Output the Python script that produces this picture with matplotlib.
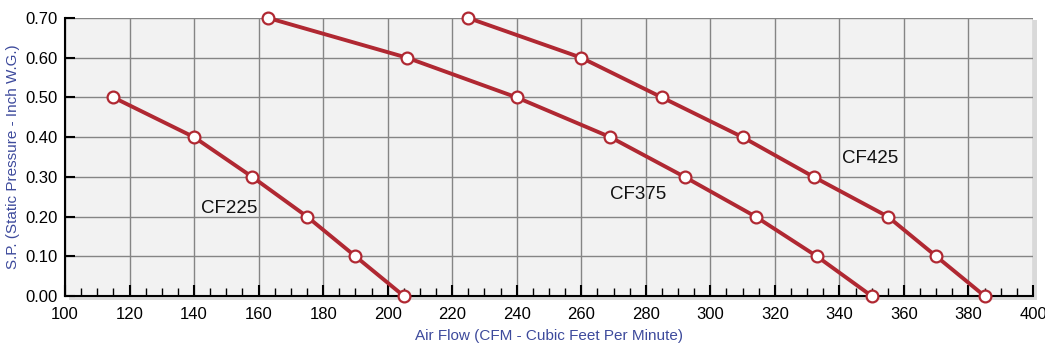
import matplotlib.pyplot as plt
from matplotlib.patches import Rectangle
from matplotlib.ticker import MultipleLocator

plt.rcParams['font.family'] = ['Liberation Sans', 'DejaVu Sans']

# Fan curves: air flow (CFM) vs static pressure (inch W.G.)
cf225_cfm = [115, 140, 158, 175, 190, 205]
cf225_sp = [0.50, 0.40, 0.30, 0.20, 0.10, 0.00]
cf375_cfm = [163, 206, 240, 269, 292, 314, 333, 350]
cf375_sp = [0.70, 0.60, 0.50, 0.40, 0.30, 0.20, 0.10, 0.00]
cf425_cfm = [225, 260, 285, 310, 332, 355, 370, 385]
cf425_sp = [0.70, 0.60, 0.50, 0.40, 0.30, 0.20, 0.10, 0.00]

series = [
    ("CF225", cf225_cfm, cf225_sp, (151, 0.22)),
    ("CF375", cf375_cfm, cf375_sp, (277.5, 0.255)),
    ("CF425", cf425_cfm, cf425_sp, (349.5, 0.345)),
]

red = "#b02832"
blue = "#3d4a9c"

fig = plt.figure(figsize=(10.45, 3.49), dpi=100)
ax = fig.add_axes([65 / 1045, 53 / 349, 968 / 1045, 278 / 349])

# drop shadow behind plot area
fig.patches.append(Rectangle((69 / 1045, 49 / 349), 968 / 1045, 280 / 349,
                             transform=fig.transFigure, facecolor="#d9d9d9",
                             edgecolor="none", zorder=-5))

ax.set_facecolor("#f2f2f2")
for name, x, y, (lx, ly) in series:
    ax.plot(x, y, color=red, lw=2.8, marker="o", ms=8.5, mfc="white",
            mec=red, mew=1.6, zorder=3, clip_on=False)
    ax.text(lx, ly, name, fontsize=13.5, ha="center", va="center", color="#111111")

ax.set_xlim(100, 400)
ax.set_ylim(0, 0.7)
ax.xaxis.set_major_locator(MultipleLocator(20))
ax.xaxis.set_minor_locator(MultipleLocator(5))
ax.yaxis.set_major_locator(MultipleLocator(0.1))
ax.yaxis.set_major_formatter(lambda v, p: f"{v:.2f}")
ax.grid(True, which="major", color="#858585", lw=1.0)
ax.set_axisbelow(True)

ax.tick_params(axis="x", which="major", direction="in", length=8, width=1.5,
               labelsize=12, pad=8)
ax.tick_params(axis="x", which="minor", direction="in", length=6, width=1)
ax.tick_params(axis="y", which="major", direction="in", length=7, width=1.5,
               labelsize=12, pad=5)

for s in ["top", "right"]:
    ax.spines[s].set_visible(False)
ax.spines["left"].set_linewidth(1.5)
ax.spines["bottom"].set_linewidth(1.5)

ax.set_xlabel("Air Flow (CFM - Cubic Feet Per Minute)", color=blue, fontsize=11, labelpad=5)
ax.set_ylabel("S.P. (Static Pressure - Inch W.G.)", color=blue, fontsize=11, labelpad=4)

fig.savefig("out.png", dpi=100)
